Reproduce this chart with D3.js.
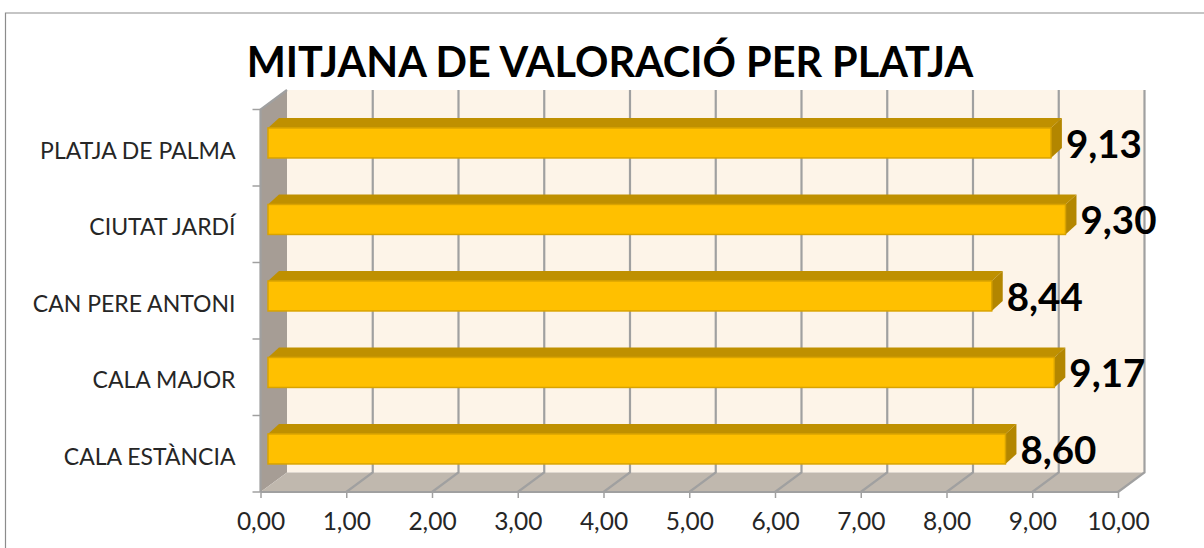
<!DOCTYPE html>
<html>
<head>
<meta charset="utf-8">
<script src="https://cdn.jsdelivr.net/npm/d3@7"></script>
<style>
  html, body { margin: 0; padding: 0; background: #fff; }
  text { font-family: Lato, "Open Sans", sans-serif; }
</style>
</head>
<body>
<div id="chart"></div>
<script>
const beaches = ["PLATJA DE PALMA", "CIUTAT JARDÍ", "CAN PERE ANTONI", "CALA MAJOR", "CALA ESTÀNCIA"];
const ratings = [9.13, 9.30, 8.44, 9.17, 8.60];
const xTicks = [0, 1, 2, 3, 4, 5, 6, 7, 8, 9, 10];
const title = "MITJANA DE VALORACIÓ PER PLATJA";

const width = 1204, height = 548;
const fmt = v => v.toFixed(2).replace(".", ",");

const x = d3.scaleLinear().domain([0, 10]).range([260.5, 1118]);
const y = d3.scaleBand().domain(beaches).range([109.5, 492]);

// depth of the 3d box and of the bars
const depthX = 26.5, depthY = -19.5;
const barDepthX = 11, barDepthY = -10;
const barInset = 7.5, barHeight = 30, barShift = -4.8;

const svg = d3.select("#chart").append("svg")
  .attr("width", width)
  .attr("height", height)
  .style("display", "block");

// chart frame, open on the right and bottom
svg.append("path")
  .attr("d", "M5.5,548V13H1204")
  .attr("fill", "none")
  .attr("stroke", "#8c8c8c")
  .attr("stroke-width", 1.2);

svg.append("text")
  .attr("x", 610)
  .attr("y", 77)
  .attr("text-anchor", "middle")
  .attr("font-size", 41.4)
  .attr("font-weight", 700)
  .attr("fill", "#000")
  .text(title);

const x0 = x(0), x1 = x(10), yTop = y.range()[0], yBot = y.range()[1];
const poly = pts => "M" + pts.map(p => p.join(",")).join("L") + "Z";
const wallLine = "#a0a0a0";

// back wall
svg.append("path")
  .attr("d", poly([[x0 + depthX, yTop + depthY], [x1 + depthX, yTop + depthY], [x1 + depthX, yBot + depthY], [x0 + depthX, yBot + depthY]]))
  .attr("fill", "#fdf4e8");

// side wall
svg.append("path")
  .attr("d", poly([[x0, yTop], [x0 + depthX, yTop + depthY], [x0 + depthX, yBot + depthY], [x0, yBot]]))
  .attr("fill", "#a69d95");

// floor
svg.append("path")
  .attr("d", poly([[x0, yBot], [x0 + depthX, yBot + depthY], [x1 + depthX, yBot + depthY], [x1, yBot]]))
  .attr("fill", "#c0b8ae");

// gridlines on wall and floor, none where the wall meets the side at 0
svg.append("g").selectAll("path")
  .data(xTicks.slice(1))
  .join("path")
  .attr("d", d => `M${x(d) + depthX},${yTop + depthY}V${yBot + depthY}L${x(d)},${yBot}`)
  .attr("fill", "none")
  .attr("stroke", wallLine)
  .attr("stroke-width", 2.2);

svg.append("path")
  .attr("d", `M${x0},${yBot}H${x1}`)
  .attr("stroke", wallLine)
  .attr("stroke-width", 2.2);

svg.append("path")
  .attr("d", `M${x0},${yBot}V${yTop}L${x0 + depthX},${yTop + depthY}`)
  .attr("fill", "none")
  .attr("stroke", wallLine)
  .attr("stroke-width", 2.2);

// ticks at band edges on the category axis
svg.append("g").selectAll("line")
  .data(d3.range(beaches.length + 1))
  .join("line")
  .attr("x1", x0 - 8)
  .attr("x2", x0)
  .attr("y1", i => yTop + i * y.step())
  .attr("y2", i => yTop + i * y.step())
  .attr("stroke", wallLine)
  .attr("stroke-width", 1.5);

// bars
const bars = svg.append("g").selectAll("g")
  .data(beaches)
  .join("g");

const barLeft = x0 + barInset;
const barTop = d => y(d) + (y.bandwidth() - barHeight) / 2 + barShift;
const barRight = (d, i) => x(ratings[i]) + barInset;

bars.append("path")
  .attr("d", (d, i) => poly([
    [barLeft, barTop(d)],
    [barLeft + barDepthX, barTop(d) + barDepthY],
    [barRight(d, i) + barDepthX, barTop(d) + barDepthY],
    [barRight(d, i), barTop(d)]
  ]))
  .attr("fill", "#bf9000");

bars.append("path")
  .attr("d", (d, i) => poly([
    [barRight(d, i), barTop(d)],
    [barRight(d, i) + barDepthX, barTop(d) + barDepthY],
    [barRight(d, i) + barDepthX, barTop(d) + barDepthY + barHeight],
    [barRight(d, i), barTop(d) + barHeight]
  ]))
  .attr("fill", "#b38600");

bars.append("rect")
  .attr("x", barLeft)
  .attr("y", barTop)
  .attr("width", (d, i) => barRight(d, i) - barLeft)
  .attr("height", barHeight)
  .attr("fill", "#ffc000")
  .attr("stroke", "#d9a300")
  .attr("stroke-width", 1.5);

// value labels
bars.append("text")
  .attr("x", (d, i) => barRight(d, i) + 15)
  .attr("y", d => barTop(d) + 30)
  .attr("font-size", 38.5)
  .attr("font-weight", 700)
  .attr("fill", "#000")
  .text((d, i) => fmt(ratings[i]));

// axes
const axisX = d3.axisBottom(x).tickValues(xTicks).tickFormat(fmt).tickSize(6).tickPadding(9);
const gx = svg.append("g").attr("transform", `translate(0,${yBot})`).call(axisX);
gx.select(".domain").remove();
gx.selectAll("line").attr("stroke", wallLine).attr("stroke-width", 1.5);
gx.selectAll("text").attr("y", 21).attr("font-size", 24.5).attr("fill", "#262626").style("font-family", "Lato, sans-serif");

const axisY = d3.axisLeft(y).tickSize(0).tickPadding(25);
const gy = svg.append("g").attr("transform", `translate(${x0},0)`).call(axisY);
gy.select(".domain").remove();
gy.selectAll("text").attr("y", 3.5).attr("font-size", 23).attr("fill", "#262626").style("font-family", "Lato, sans-serif");
</script>
</body>
</html>
